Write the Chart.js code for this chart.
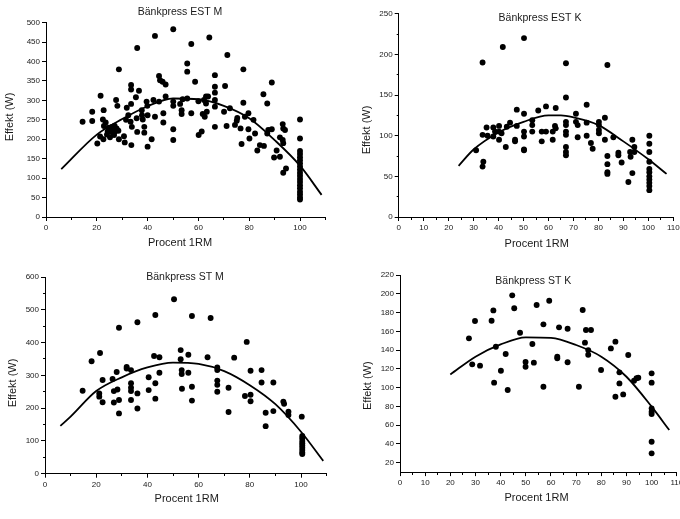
<!DOCTYPE html>
<html><head><meta charset="utf-8">
<script src="https://cdn.jsdelivr.net/npm/chart.js@4.4.1/dist/chart.umd.min.js"></script>
<style>
html,body{margin:0;padding:0;background:#fff;overflow:hidden;width:680px;height:519px;}
canvas{position:absolute;}
</style></head><body>
<canvas id="c1" width="340" height="260" style="left:0;top:0"></canvas>
<canvas id="c2" width="340" height="260" style="left:340px;top:0"></canvas>
<canvas id="c3" width="340" height="260" style="left:0;top:260px"></canvas>
<canvas id="c4" width="340" height="260" style="left:340px;top:260px"></canvas>
<script>
// ---------- Panel 1: Bänkpress EST M ----------
const estM_title = 'Bänkpress EST M';
const estM_pct = [14.4,18.2,18.2,21.5,20.2,21.3,22.7,22.4,22.8,22.6,24.3,24.7,25.2,25.9,26.5,27.2,26.8,27.8,27.6,28.1,28.7,28.7,30.7,31.0,31.8,31.5,32.4,33.5,33.5,33.5,33.8,33.6,33.3,35.4,35.9,36.6,35.7,35.9,37.7,37.8,38.1,38.7,38.7,39.6,39.9,40.0,40.0,41.6,42.3,42.9,42.9,44.5,44.9,44.5,45.9,46.2,46.2,47.1,47.1,50.1,50.1,50.1,50.1,50.1,52.8,53.4,53.4,53.8,55.6,55.6,55.6,57.2,57.2,58.7,60.0,60.1,61.3,61.7,62.2,62.5,63.0,63.0,63.8,64.3,63.3,66.5,66.5,66.5,66.5,66.5,66.5,70.5,71.4,71.1,70.1,72.4,74.4,75.1,75.3,76.6,77.0,77.7,77.7,78.3,79.7,79.7,80.1,81.7,82.3,83.2,84.2,85.6,85.8,87.1,87.5,87.1,88.9,88.9,89.8,90.8,92.1,92.1,93.2,93.4,93.4,93.4,94.5,94.1,93.2,23.5,24.0,25.5,26.0,27.0,28.5,100,100,100,100,100,100,100,100,100,100,100,100,100,100,100,100,100,100,100];
const estM_watt = [245,271,247,312,189,207,275,251,234,200,220,230,205,232,224,220,211,228,301,286,380,200,208,192,281,250,262,340,328,291,232,185,245,308,435,325,254,219,275,262,251,232,217,297,286,262,181,200,301,466,258,363,352,297,348,267,243,310,341,483,297,286,226,198,291,275,265,303,395,374,305,445,267,348,298,211,220,265,301,258,310,292,310,462,271,365,335,320,301,284,232,337,417,234,271,280,237,248,255,228,188,380,294,258,267,226,202,250,215,171,185,316,183,292,224,215,346,226,153,171,155,205,239,228,190,114,125,224,198,243,212,228,218,235,222,251,202,170,162,154,146,138,130,122,114,106,98,90,82,74,65,58,50,45];
const estM_fitPct = [6,20,30,40,50,60,70,80,90,100,108.5];
const estM_fitWatt = [123,212,252,285,305,303,286,254,198,132,57];
const estM_xTicks = [0,10,20,30,40,50,60,70,80,90,100,110];
const estM_xLabels = ['0','','20','','40','','60','','80','','100',''];
const estM_yTicks = [0,50,100,150,200,250,300,350,400,450,500];
const estM_yLabels = ['0','50','100','150','200','250','300','350','400','450','500'];

// ---------- Panel 2: Bänkpress EST K ----------
const estK_title = 'Bänkpress EST K';
const estK_pct = [31.0,33.6,33.6,33.9,33.6,35.2,35.6,37.9,37.9,38.6,40.2,40.2,40.2,41.7,41.2,42.9,43.3,44.6,46.6,46.6,47.3,47.3,50.2,50.2,50.2,50.2,50.2,50.2,53.5,53.5,53.5,55.9,57.3,57.3,59.0,59.0,61.7,61.7,62.9,62.6,62.9,67.0,67.0,67.0,67.0,67.0,67.0,67.0,67.0,67.0,71.0,71.0,71.7,71.7,75.3,75.3,75.3,77.0,77.7,80.2,80.2,80.2,80.2,82.6,82.6,83.6,83.6,83.6,83.6,83.6,86.0,88.0,88.0,89.3,92.0,92.7,92.9,93.6,93.6,94.4,94.4,100.4,100.4,100.4,100.4,100.4,100.4,100.4,100.4,100.4,100.4,100.4];
const estK_watt = [82,190,101,68,62,110,100,110,99,105,112,105,95,209,103,86,111,116,95,93,132,112,220,127,105,99,83,82,119,113,105,131,105,93,136,105,105,95,134,112,109,189,147,117,113,105,101,86,80,76,127,117,113,98,138,116,100,91,84,117,113,107,103,122,95,187,75,65,55,53,98,79,76,67,43,80,74,95,54,86,80,100,90,80,68,59,55,50,46,42,38,33];
const estK_fitPct = [24,30,40,50,60,65,70,80,90,100,107.3];
const estK_fitWatt = [63,83,104,117,125,125,122.5,113,93,71,53];
const estK_xTicks = [0,5,10,15,20,25,30,35,40,45,50,55,60,65,70,75,80,85,90,95,100,105,110];
const estK_xLabels = ['0','','10','','20','','30','','40','','50','','60','','70','','80','','90','','100','','110'];
const estK_yTicks = [0,25,50,75,100,125,150,175,200,225,250];
const estK_yLabels = ['0','','50','','100','','150','','200','','250'];

// ---------- Panel 3: Bänkpress ST M ----------
const stM_title = 'Bänkpress ST M';
const stM_pct = [14.7,18.2,21.5,21.2,21.2,22.5,22.5,26.4,26.9,26.9,28.0,28.3,28.9,28.9,28.9,31.9,31.9,33.6,33.6,33.6,33.6,33.6,36.1,36.1,36.1,40.5,40.5,42.6,43.1,43.1,43.1,44.7,44.7,50.4,53.0,53.0,53.4,53.4,53.5,56.0,56.0,57.4,57.4,57.4,63.5,64.7,67.3,67.3,67.3,67.3,67.3,71.7,71.7,73.9,78.1,78.8,80.3,80.3,80.3,84.6,84.6,86.2,86.2,89.2,89.2,93.1,93.4,95.1,95.1,100.3,100.5,100.5,100.5,100.5,100.5,100.5,100.5,100.5,100.5];
const stM_watt = [253,343,368,245,235,286,218,289,252,217,310,257,445,225,184,326,321,316,276,262,252,225,462,245,199,294,255,359,484,276,229,355,308,532,377,349,316,304,259,363,308,481,265,223,355,475,324,316,284,271,250,262,188,354,237,402,314,241,221,316,278,186,145,278,191,220,213,189,179,174,115,108,100,93,86,79,72,65,60];
const stM_fitPct = [6,10,20,30,40,50,60,70,80,90,100,108.7];
const stM_fitWatt = [146,174,252,294,324,339,335,313,270,212,128,39];
const stM_xTicks = [0,10,20,30,40,50,60,70,80,90,100,110];
const stM_xLabels = ['0','','20','','40','','60','','80','','100',''];
const stM_yTicks = [0,50,100,150,200,250,300,350,400,450,500,550,600];
const stM_yLabels = ['0','','100','','200','','300','','400','','500','','600'];

// ---------- Panel 4: Bänkpress ST K ----------
const stK_title = 'Bänkpress ST K';
const stK_pct = [27.4,28.7,29.8,31.8,36.4,37.1,37.4,38.1,40.1,42.0,42.8,44.6,45.4,47.7,49.9,49.9,52.6,53.2,54.3,57.0,57.0,59.3,62.5,62.5,63.2,66.6,66.6,71.1,72.6,73.5,73.9,74.8,74.8,75.9,79.9,83.8,85.6,85.6,87.2,87.2,88.7,90.7,93.0,94.0,94.7,100,100,100,100,100,100,100];
const stK_watt = [152.5,124.8,171,123.4,171.3,182.3,105.3,143.6,118,135.8,97.4,198.3,184.5,158.5,127.3,122.3,146.5,126.6,188,167.4,101,192.6,133,131.2,164.2,162.8,127,101,182.7,147.9,161.4,140,135,161.4,118.8,141.8,149,90.3,116.3,104.5,92.8,134.7,107.4,110,110.6,115.2,105.3,77.9,74.4,71.9,42.4,30];
const stK_fitPct = [20,30,40,50,60,70,80,90,100,107];
const stK_fitWatt = [114,133,146,153.6,153,145.4,133,111.6,79.7,54.8];
const stK_xTicks = [0,5,10,15,20,25,30,35,40,45,50,55,60,65,70,75,80,85,90,95,100,105,110];
const stK_xLabels = ['0','','10','','20','','30','','40','','50','','60','','70','','80','','90','','100','','110'];
const stK_yTicks = [20,40,60,80,100,120,140,160,180,200,220];
const stK_yLabels = ['20','40','60','80','100','120','140','160','180','200','220'];

const xAxisTitle = 'Procent 1RM';
const yAxisTitle = 'Effekt (W)';

const FONT = '"Liberation Sans", Arial, Helvetica, sans-serif';
const INK = '#1a1a1a';

const textPlugin = {
  id: 'panelText',
  afterDraw(chart, args, o) {
    const ctx = chart.ctx;
    ctx.save();
    ctx.fillStyle = INK;
    ctx.textAlign = 'center';
    ctx.textBaseline = 'middle';
    ctx.font = '10.5px ' + FONT;
    ctx.fillText(o.title, o.titlePos[0], o.titlePos[1]);
    ctx.font = '11px ' + FONT;
    ctx.fillText(xAxisTitle, o.xPos[0], o.xPos[1]);
    ctx.translate(o.yPos[0], o.yPos[1]);
    ctx.rotate(-Math.PI / 2);
    ctx.fillText(yAxisTitle, 0, 0);
    ctx.restore();
  }
};

function pairs(xs, ys) { return xs.map((x, i) => ({x: x, y: ys[i]})); }

function makePanel(id, d) {
  const W = 340, H = 260;
  const yMinor = (ctx) => (ctx.tick && d.yLabels[ctx.index] === '') ? [0, 2, 2, 20] : [];
  const xMinorB = (ctx) => (ctx.tick && d.xLabels[ctx.index] === '') ? [2, 20] : [];
  new Chart(document.getElementById(id), {
    type: 'scatter',
    data: {
      datasets: [
        {
          data: pairs(d.pct, d.watt),
          backgroundColor: '#000', borderWidth: 0,
          pointRadius: 2.95, pointHoverRadius: 2.95, showLine: false
        },
        {
          data: pairs(d.fitPct, d.fitWatt),
          showLine: true, borderColor: '#000', borderWidth: 1.8,
          pointRadius: 0, cubicInterpolationMode: 'monotone', fill: false
        }
      ]
    },
    options: {
      responsive: false, animation: false, devicePixelRatio: 1,
      layout: { padding: { left: 0, top: d.area.top, right: W - d.area.right, bottom: 0 } },
      plugins: {
        legend: { display: false }, tooltip: { enabled: false },
        panelText: { title: d.title, titlePos: d.titlePos, xPos: d.xPos, yPos: d.yPos }
      },
      scales: {
        x: {
          type: 'linear', position: 'bottom', min: d.xMin, max: d.xMax,
          afterBuildTicks: (s) => { s.ticks = d.xTicks.map(v => ({value: v})); },
          afterFit: (s) => { s.height = H - d.area.bottom; s.paddingLeft = 0; s.paddingRight = 0; },
          ticks: { autoSkip: false, maxRotation: 0, padding: 2, color: INK,
                   font: { family: FONT, size: 8 },
                   callback: (v, i) => d.xLabels[i] },
          grid: { drawOnChartArea: false, drawTicks: true, tickLength: 4, tickColor: '#000', tickWidth: 1,
                  tickBorderDash: xMinorB },
          border: { display: true, color: '#000', width: 1 }
        },
        y: {
          type: 'linear', position: 'left', min: d.yMin, max: d.yMax,
          afterBuildTicks: (s) => { s.ticks = d.yTicks.map(v => ({value: v})); },
          afterFit: (s) => { s.width = d.area.left; s.paddingTop = 0; s.paddingBottom = 0; },
          ticks: { autoSkip: false, padding: 2, color: INK,
                   font: { family: FONT, size: 8 },
                   callback: (v, i) => d.yLabels[i] },
          grid: { drawOnChartArea: false, drawTicks: true, tickLength: 4, tickColor: '#000', tickWidth: 1,
                  tickBorderDash: yMinor },
          border: { display: true, color: '#000', width: 1 }
        }
      }
    },
    plugins: [textPlugin]
  });
}

makePanel('c1', { title: estM_title, pct: estM_pct, watt: estM_watt, fitPct: estM_fitPct, fitWatt: estM_fitWatt,
  xTicks: estM_xTicks, xLabels: estM_xLabels, yTicks: estM_yTicks, yLabels: estM_yLabels,
  xMin: 0, xMax: 110, yMin: 0, yMax: 500,
  area: { left: 46, top: 22.7, right: 325.4, bottom: 217 },
  titlePos: [180, 12], xPos: [180, 243], yPos: [10, 117] });

makePanel('c2', { title: estK_title, pct: estK_pct, watt: estK_watt, fitPct: estK_fitPct, fitWatt: estK_fitWatt,
  xTicks: estK_xTicks, xLabels: estK_xLabels, yTicks: estK_yTicks, yLabels: estK_yLabels,
  xMin: 0, xMax: 110, yMin: 0, yMax: 250,
  area: { left: 58.7, top: 13.7, right: 333.3, bottom: 217 },
  titlePos: [200, 17.7], xPos: [196.7, 244.3], yPos: [26.7, 130] });

makePanel('c3', { title: stM_title, pct: stM_pct, watt: stM_watt, fitPct: stM_fitPct, fitWatt: stM_fitWatt,
  xTicks: stM_xTicks, xLabels: stM_xLabels, yTicks: stM_yTicks, yLabels: stM_yLabels,
  xMin: 0, xMax: 110, yMin: 0, yMax: 600,
  area: { left: 45, top: 17, right: 326.6, bottom: 213.7 },
  titlePos: [185, 17.3], xPos: [186.7, 239.3], yPos: [12.7, 123] });

makePanel('c4', { title: stK_title, pct: stK_pct, watt: stK_watt, fitPct: stK_fitPct, fitWatt: stK_fitWatt,
  xTicks: stK_xTicks, xLabels: stK_xLabels, yTicks: stK_yTicks, yLabels: stK_yLabels,
  xMin: 0, xMax: 110, yMin: 10, yMax: 220,
  area: { left: 60, top: 15, right: 336.8, bottom: 212.1 },
  titlePos: [193.3, 20.7], xPos: [196.5, 237.5], yPos: [28.3, 125.7] });
</script>
</body></html>
